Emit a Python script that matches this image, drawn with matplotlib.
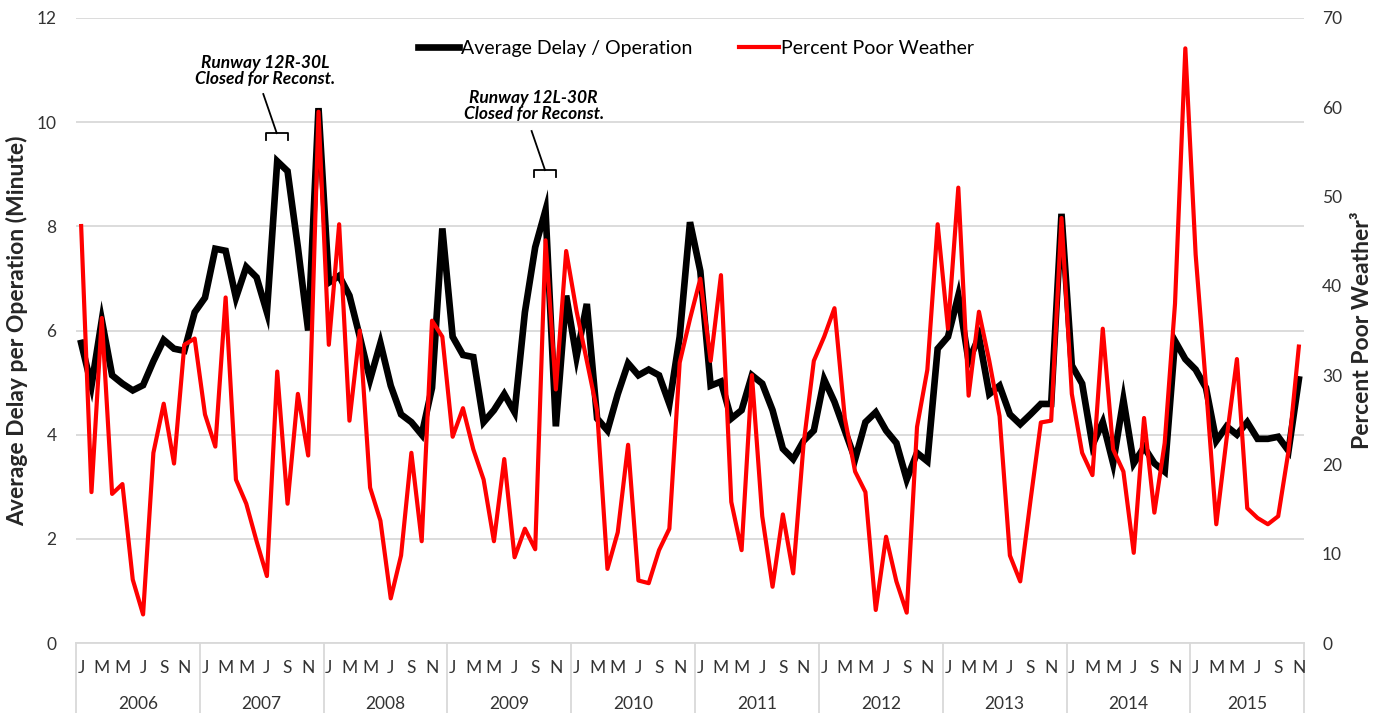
import numpy as np
import matplotlib
matplotlib.use("Agg")
import matplotlib.pyplot as plt

plt.rcParams['font.family'] = ['Lato', 'DejaVu Sans']

# monthly values, Jan 2006 .. Nov 2015
years = ["2006", "2007", "2008", "2009", "2010", "2011", "2012", "2013", "2014", "2015"]
month_letters = ["J", "M", "M", "J", "S", "N"]

avg_delay = [
    5.76, 4.94, 6.20, 5.14, 4.98, 4.85, 4.95, 5.41, 5.82, 5.65, 5.61, 6.35,
    6.63, 7.57, 7.53, 6.63, 7.22, 7.02, 6.35, 9.25, 9.06, 7.60, 6.00, 10.27,
    6.92, 7.05, 6.67, 5.88, 5.06, 5.76, 4.94, 4.39, 4.24, 4.00, 4.90, 7.96,
    5.88, 5.53, 5.49, 4.24, 4.47, 4.78, 4.43, 6.35, 7.60, 8.31, 4.16, 6.67,
    5.49, 6.51, 4.31, 4.08, 4.78, 5.37, 5.14, 5.25, 5.14, 4.59, 5.88, 8.08,
    7.14, 4.94, 5.02, 4.31, 4.47, 5.14, 4.98, 4.47, 3.73, 3.53, 3.88, 4.08,
    5.06, 4.63, 4.08, 3.53, 4.24, 4.43, 4.08, 3.84, 3.14, 3.65, 3.49, 5.65,
    5.88, 6.67, 5.41, 5.88, 4.78, 4.94, 4.39, 4.20, 4.39, 4.59, 4.59, 8.24,
    5.33, 4.98, 3.80, 4.24, 3.45, 4.67, 3.45, 3.76, 3.45, 3.29, 5.80, 5.45,
    5.25, 4.90, 3.88, 4.16, 4.00, 4.24, 3.92, 3.92, 3.96, 3.69, 5.06,
]

poor_weather = [
    46.7, 16.9, 36.4, 16.7, 17.8, 7.1, 3.2, 21.3, 26.8, 20.1, 33.4, 34.1,
    25.6, 22.0, 38.7, 18.3, 15.6, 11.4, 7.5, 30.4, 15.6, 27.9, 21.0, 59.5,
    33.4, 46.9, 24.9, 35.0, 17.4, 13.7, 5.0, 9.8, 21.3, 11.4, 36.1, 34.3,
    23.1, 26.3, 21.7, 18.3, 11.4, 20.6, 9.6, 12.8, 10.5, 45.1, 28.4, 43.9,
    37.2, 31.6, 26.0, 8.3, 12.4, 22.2, 7.0, 6.7, 10.4, 12.8, 31.4, 36.3,
    40.8, 31.6, 41.2, 15.8, 10.4, 30.0, 14.2, 6.3, 14.4, 7.8, 22.2, 31.6,
    34.3, 37.5, 25.2, 19.2, 16.9, 3.7, 11.9, 6.9, 3.4, 24.2, 30.6, 46.9,
    35.2, 51.0, 27.7, 37.1, 31.6, 25.4, 9.8, 6.9, 16.0, 24.7, 24.9, 47.6,
    27.9, 21.3, 18.8, 35.2, 21.7, 19.2, 10.1, 25.2, 14.6, 22.4, 38.0, 66.6,
    43.5, 28.8, 13.3, 22.9, 31.8, 15.1, 14.0, 13.3, 14.2, 21.5, 33.2,
]

n = len(avg_delay)
x = np.arange(n)
grid_col = "#d9d9d9"
txt_col = "#333333"

fig = plt.figure(figsize=(13.85, 7.13), dpi=100)
ax = fig.add_axes([76 / 1385, 1 - 643 / 713, 1228 / 1385, 625 / 713])

ax.set_xlim(-0.5, n - 0.5)
ax.set_ylim(0, 12)
ax.set_yticks(range(0, 13, 2))
ax.grid(axis="y", color=grid_col, lw=1.3)
ax.set_axisbelow(True)
for s in ["top", "left", "right"]:
    ax.spines[s].set_visible(False)
ax.spines["bottom"].set_color(grid_col)
ax.spines["bottom"].set_linewidth(1.3)
ax.set_xticks([])
ax.tick_params(axis="y", length=0, pad=14, labelsize=12.5, labelcolor=txt_col)

l1, = ax.plot(x, avg_delay, color="black", lw=4.8, solid_joinstyle="miter",
              label="Average Delay / Operation")

ax2 = ax.twinx()
ax2.set_ylim(0, 70)
ax2.set_yticks(range(0, 71, 10))
for s in ["top", "left", "right", "bottom"]:
    ax2.spines[s].set_visible(False)
ax2.tick_params(axis="y", length=0, pad=13, labelsize=12.5, labelcolor=txt_col)
l2, = ax2.plot(x, poor_weather, color="#ff0000", lw=3.0, label="Percent Poor Weather")

ax.set_ylabel("Average Delay per Operation (Minute)", fontsize=16.5, fontweight="bold", color="#262626")
ax.yaxis.set_label_coords(-0.039, 0.5)
ax2.set_ylabel("Percent Poor Weather³", fontsize=16.5, fontweight="bold", color="#262626",
               rotation=90)
ax2.yaxis.set_label_coords(1.039, 0.5)

# category axis: month letters, years, separators
trans = ax.get_xaxis_transform()
for i in range(n):
    if i % 2 == 0:
        ax.text(i, -0.040, month_letters[(i % 12) // 2], transform=trans,
                ha="center", va="center", fontsize=12.5, color=txt_col)
for k, yr in enumerate(years):
    start = 12 * k - 0.5
    end = min(12 * k + 11.5, n - 0.5)
    ax.text((start + end) / 2, -0.098, yr, transform=trans, ha="center", va="center",
            fontsize=12.5, color=txt_col)
    ax.plot([start, start], [0, -0.115], transform=trans, color=grid_col, lw=1.3, clip_on=False)
ax.plot([n - 0.5, n - 0.5], [0, -0.115], transform=trans, color=grid_col, lw=1.3, clip_on=False)

# closure annotations
def closure(x0, x1, y_br, text, ty):
    ax.plot([x0, x0, x1, x1], [y_br - 0.13, y_br, y_br, y_br - 0.13], color="black", lw=1.3)
    mid = (x0 + x1) / 2
    ax.plot([mid, mid - 1.3], [y_br, y_br + 0.75], color="black", lw=1.3)
    ax.text(mid - 1.1, ty, text, ha="center", va="center", fontsize=12.5,
            fontweight="bold", style="italic", linespacing=1.0)

closure(17.9, 20.0, 9.79, "Runway 12R-30L\nClosed for Reconst.", 10.98)
closure(43.9, 46.0, 9.08, "Runway 12L-30R\nClosed for Reconst.", 10.31)

ax2.legend([l1, l2], [l1.get_label(), l2.get_label()], loc="center",
           bbox_to_anchor=(0.505, 0.951), ncol=2, frameon=False, fontsize=14,
           handlelength=2.1, handletextpad=0.1, columnspacing=2.4)

plt.savefig("out.png", dpi=100)
